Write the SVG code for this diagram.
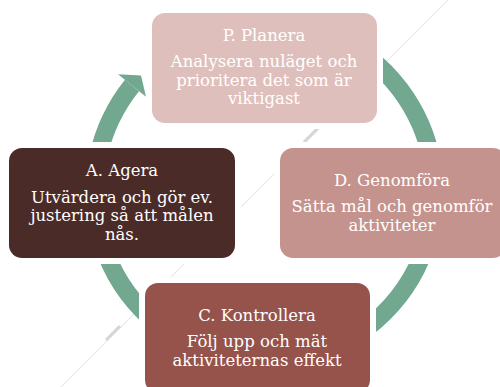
<svg xmlns="http://www.w3.org/2000/svg" width="500" height="387" viewBox="0 0 500 387">
<style>
.box{stroke:#ffffff;stroke-width:12;paint-order:stroke;}
.t{font-family:"DejaVu Serif","Liberation Serif",serif;font-size:16.5px;fill:#ffffff;text-anchor:middle;}
.deco{stroke:#e8e8e8;stroke-width:1.1;fill:none;}
.deco2{stroke:#d6d6d6;stroke-width:3;fill:none;}
</style>
<rect width="500" height="387" fill="#ffffff"/>
<g id="decoration">
<line class="deco" x1="60" y1="388" x2="450" y2="-2"/>
<line class="deco2" x1="304" y1="142" x2="318" y2="128"/>
<line class="deco2" x1="106" y1="340" x2="120" y2="326"/>
</g>
<g id="connectors">
<path d="M179.5 44.8 A170 170 0 1 1 132 85.5" fill="none" stroke="#72a890" stroke-width="18"/>
<polygon points="118,74.2 141,75.5 146,96.8" fill="#72a890"/>
</g>
<g id="node-P">
<rect class="box" x="152" y="13" width="225" height="110" rx="13" fill="#dfbfbb"/>
<text class="t" x="264" y="41">P. Planera</text>
<text class="t" x="264" y="67">Analysera nuläget och</text>
<text class="t" x="264" y="86">prioritera det som är</text>
<text class="t" x="264" y="104">viktigast</text>
</g>
<g id="node-A">
<rect class="box" x="9" y="148" width="226" height="110" rx="13" fill="#4b2b27"/>
<text class="t" x="122" y="176">A. Agera</text>
<text class="t" x="122" y="203">Utvärdera och gör ev.</text>
<text class="t" x="122" y="221">justering så att målen</text>
<text class="t" x="122" y="240">nås.</text>
</g>
<g id="node-D">
<rect class="box" x="280" y="148" width="226" height="110" rx="13" fill="#c5938d"/>
<text class="t" x="392" y="186">D. Genomföra</text>
<text class="t" x="392" y="212">Sätta mål och genomför</text>
<text class="t" x="392" y="231">aktiviteter</text>
</g>
<g id="node-C">
<rect class="box" x="145" y="283" width="225" height="110" rx="13" fill="#95534b"/>
<text class="t" x="257" y="321">C. Kontrollera</text>
<text class="t" x="257" y="347">Följ upp och mät</text>
<text class="t" x="257" y="366">aktiviteternas effekt</text>
</g>
</svg>
